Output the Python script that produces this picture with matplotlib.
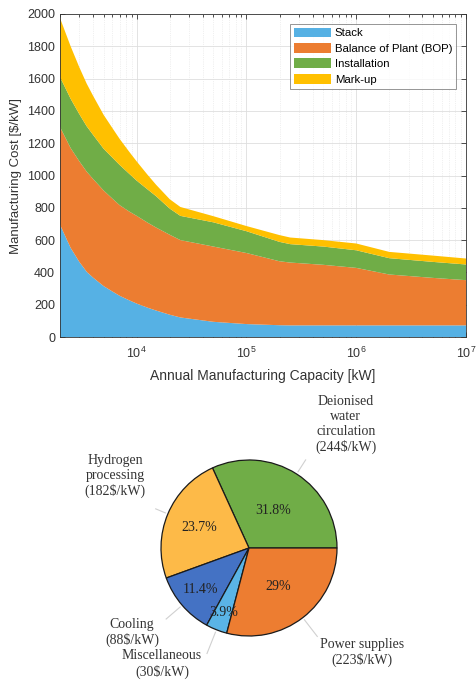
import numpy as np
import matplotlib
matplotlib.use("Agg")
import matplotlib.pyplot as plt
from matplotlib.ticker import LogLocator, NullFormatter, MultipleLocator

plt.rcParams['font.family'] = ['Liberation Sans', 'DejaVu Sans']

# --- data: cost breakdown vs annual manufacturing capacity ---
capacity_kw = [2e3, 2.5e3, 3e3, 3.5e3, 4e3, 5e3, 6e3, 7e3, 8.5e3, 1e4, 1.25e4, 1.5e4,
               2e4, 2.5e4, 5e4, 1e5, 2e5, 2.5e5, 5e5, 1e6, 2e6, 5e6, 1e7]
stack_cost = [695, 552, 465, 404, 368, 315, 282, 255, 228, 207, 182, 164,
              138, 121, 94, 80, 73, 72, 72, 72, 72, 72, 72]
bop_cost = [605, 618, 623, 620, 611, 592, 575, 561, 550, 543, 527, 514,
            495, 479, 466, 440, 396, 389, 375, 356, 315, 294, 280]
install_cost = [310, 305, 292, 281, 273, 258, 254, 249, 234, 218, 206, 194,
                162, 150, 150, 135, 120, 114, 113, 109, 101, 99, 97]
markup_cost = [365, 325, 290, 264, 242, 210, 183, 161, 137, 119, 91, 71,
               58, 55, 38, 32, 42, 41, 40, 42, 39, 39, 37]
series_names = ['Stack', 'Balance of Plant (BOP)', 'Installation', 'Mark-up']
series_colors = ['#56B1E4', '#EC7D31', '#70AD47', '#FFC000']

# --- data: BOP breakdown (pie) ---
bop_items = ['Deionised\nwater\ncirculation', 'Hydrogen\nprocessing', 'Cooling',
             'Miscellaneous', 'Power supplies']
bop_item_cost = [244, 182, 88, 30, 223]
bop_item_share = [31.8, 23.7, 11.4, 3.9, 29]
pie_colors = ['#70AD47', '#FDBA48', '#4472C4', '#5AB4E6', '#ED7D31']

fig = plt.figure(figsize=(4.76, 6.82), dpi=100)

# ---------- area chart ----------
ax = fig.add_axes([60/476, 1-337/682, 406/476, 323/682])
ax.stackplot(capacity_kw, stack_cost, bop_cost, install_cost, markup_cost,
             labels=series_names, colors=series_colors, linewidth=0)
ax.set_xscale('log')
ax.set_xlim(2e3, 1e7)
ax.set_ylim(0, 2000)
ax.yaxis.set_major_locator(MultipleLocator(200))
ax.xaxis.set_minor_locator(LogLocator(base=10, subs=np.arange(2, 10)))
ax.xaxis.set_minor_formatter(NullFormatter())
ax.set_axisbelow(True)
ax.grid(True, which='major', color='#dedede', linewidth=0.6)
ax.grid(True, which='minor', axis='x', color='#e2e2e2', linewidth=0.5, linestyle=':')
ax.tick_params(which='both', direction='in', top=True, right=True,
               colors='#333333', labelsize=9, labelcolor='#333333', width=0.6)
ax.tick_params(which='major', length=3.5)
ax.tick_params(which='minor', length=2)
ax.tick_params(axis='x', which='major', pad=6)
for sp in ax.spines.values():
    sp.set_color('#333333')
    sp.set_linewidth(0.6)
ax.set_xlabel('Annual Manufacturing Capacity [kW]', fontsize=10, color='#333333', labelpad=6)
ax.set_ylabel(r'Manufacturing Cost [\$/kW]', fontsize=9.5, color='#333333', labelpad=3.5)
leg = ax.legend(loc='upper right', fontsize=8.2, frameon=True, fancybox=False,
                handlelength=3.3, handleheight=0.95, handletextpad=0.3,
                labelspacing=0.4, borderpad=0.35, borderaxespad=0.85)
leg.get_frame().set_edgecolor('#666666')
leg.get_frame().set_linewidth(0.6)

# ---------- pie chart ----------
cx, cy, rpx = 249, 548, 88
pax = fig.add_axes([0, 0, 1, 340/682])
wedges, _ = pax.pie(bop_item_cost, colors=pie_colors, startangle=0, counterclock=True,
                    wedgeprops=dict(edgecolor='#1a1a1a', linewidth=0.9))
pax.set_xlim(-cx/rpx, (476-cx)/rpx)
pax.set_ylim(-(682-cy)/rpx, (340-(682-cy))/rpx)
pax.set_aspect('auto')
pax.axis('off')

serif = ['Liberation Serif', 'DejaVu Serif']
pct_radius = [0.505, 0.61, 0.72, 0.79, 0.55]
lead_out = [1.19, 1.15, 1.24, 1.29, 1.27]
label_xy = [(1.10, 1.40), (-1.52, 0.82), (-1.33, -0.96), (-0.99, -1.32), (1.28, -1.19)]
for w, share, name, cost, r, lo, xy in zip(wedges, bop_item_share, bop_items, bop_item_cost,
                                            pct_radius, lead_out, label_xy):
    th = np.deg2rad((w.theta1 + w.theta2) / 2)
    pax.text(r*np.cos(th), r*np.sin(th), f'{share:g}%', ha='center', va='center',
             fontsize=10, family=serif, color='#222222')
    pax.plot([1.03*np.cos(th), lo*np.cos(th)], [1.03*np.sin(th), lo*np.sin(th)],
             color='#d0d0d0', linewidth=0.8)
    pax.text(xy[0], xy[1], f'{name}\n({cost}\\$/kW)', ha='center', va='center',
             multialignment='center', fontsize=10, family=serif, color='#333333')

fig.savefig('out.png', dpi=100)
